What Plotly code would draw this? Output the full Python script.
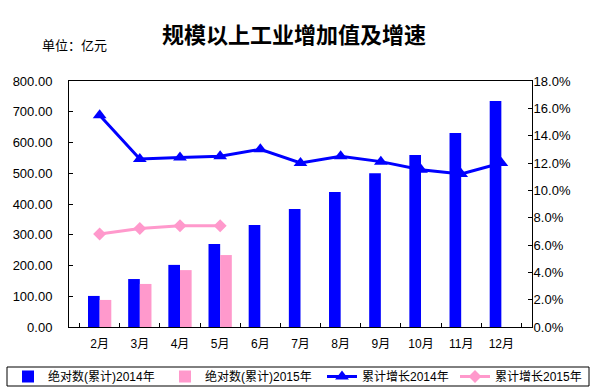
import plotly.graph_objects as go

months = ["2月", "3月", "4月", "5月", "6月", "7月", "8月", "9月", "10月", "11月", "12月"]
abs_2014 = [101, 156, 202, 270, 332, 384, 439, 500, 559, 631, 735]
abs_2015 = [88, 140, 185, 234]
growth_2014 = [15.5, 12.3, 12.4, 12.5, 13.0, 12.0, 12.5, 12.1, 11.5, 11.2, 12.0]
growth_2015 = [6.8, 7.2, 7.4, 7.4]

left_ticks = [0, 100, 200, 300, 400, 500, 600, 700, 800]
right_ticks = [0, 2, 4, 6, 8, 10, 12, 14, 16, 18]

BLUE = "#0000FF"
PINK = "#FF99CC"
FONT = "Liberation Sans, Noto Sans CJK SC, sans-serif"

fig = go.Figure()
fig.add_trace(go.Bar(x=months, y=abs_2014, name="绝对数(累计)2014年", legend="legend",
                     marker=dict(color=BLUE, line=dict(width=0))))
fig.add_trace(go.Bar(x=months[:len(abs_2015)], y=abs_2015, name="绝对数(累计)2015年", legend="legend",
                     marker=dict(color=PINK, line=dict(width=0))))
fig.add_trace(go.Scatter(x=months, y=growth_2014, name="累计增长2014年", yaxis="y2", mode="lines+markers",
                         legend="legend2",
                         line=dict(color=BLUE, width=3), marker=dict(symbol="triangle-up", size=12, color=BLUE)))
fig.add_trace(go.Scatter(x=months[:len(growth_2015)], y=growth_2015, name="累计增长2015年", yaxis="y2",
                         mode="lines+markers", legend="legend2",
                         line=dict(color=PINK, width=3), marker=dict(symbol="diamond", size=10, color=PINK)))

W, H = 596, 392
L, R, T, B = 69, 64, 81, 65
PW, PH = W - L - R, H - T - B
BOT = T + PH

def px_x(p):
    return (p - L) / PW

def px_y(p):
    return (BOT - p) / PH

legend_common = dict(orientation="h", yanchor="top", y=px_y(362), xanchor="left",
                     borderwidth=0, bgcolor="rgba(0,0,0,0)", entrywidthmode="pixels",
                     font=dict(size=12), itemwidth=30, tracegroupgap=0)

fig.update_layout(
    width=W, height=H,
    margin=dict(l=L, r=R, t=T, b=B, autoexpand=False),
    paper_bgcolor="white", plot_bgcolor="white",
    font=dict(family=FONT, size=13, color="black"),
    bargap=0.42, bargroupgap=0,
    showlegend=True,
    title=dict(text="<b>规模以上工业增加值及增速</b>", x=294/W, xanchor="center", y=1-35/H, yanchor="middle",
               font=dict(family="Noto Sans CJK SC, sans-serif", size=22, color="black")),
    xaxis=dict(type="category", showline=True, linecolor="black", linewidth=1, mirror=True,
               ticks="inside", tickson="boundaries", ticklen=4, tickcolor="black",
               showgrid=False, tickfont=dict(size=12), ticklabelstandoff=6),
    yaxis=dict(range=[0, 800], tickvals=left_ticks, ticktext=[f"{v:.2f}" for v in left_ticks],
               showline=True, linecolor="black", linewidth=1, ticks="inside", ticklen=4, tickcolor="black",
               showgrid=False, zeroline=False, tickfont=dict(size=13), ticklabelstandoff=13),
    yaxis2=dict(range=[0, 18], overlaying="y", side="right", tickvals=right_ticks,
                ticktext=[f"{v:.1f}%" for v in right_ticks],
                showline=True, linecolor="black", linewidth=1, ticks="inside", ticklen=4, tickcolor="black",
                showgrid=False, zeroline=False, tickfont=dict(size=13), ticklabelstandoff=-2),
    legend=dict(legend_common, x=px_x(8), entrywidth=112),
    legend2=dict(legend_common, x=px_x(322), entrywidth=88),
    shapes=[dict(type="rect", xref="paper", yref="paper",
                 x0=px_x(7), x1=px_x(589), y0=px_y(367), y1=px_y(386),
                 line=dict(color="black", width=1), fillcolor="rgba(0,0,0,0)")],
    annotations=[dict(text="单位：亿元", xref="paper", yref="paper", x=px_x(40), y=px_y(45),
                      xanchor="left", yanchor="middle", showarrow=False, font=dict(size=13))],
)

fig.write_html("out.html", config={"displayModeBar": False},
               post_script="document.body.style.margin='0';document.body.style.overflow='hidden';")
